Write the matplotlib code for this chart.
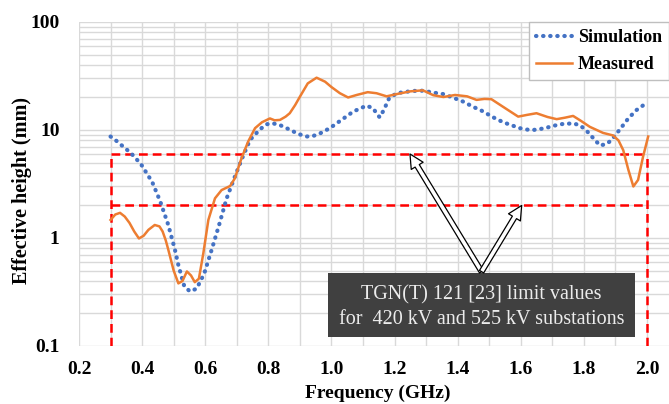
import matplotlib.pyplot as plt
from matplotlib.patches import Rectangle
from matplotlib.ticker import FixedLocator, FixedFormatter, MultipleLocator, NullFormatter

# simulation curve (GHz, mm)
sim_f = [0.300, 0.317, 0.351, 0.367, 0.396, 0.432, 0.457, 0.483, 0.504, 0.515,
         0.534, 0.552, 0.573, 0.597, 0.620, 0.644, 0.668, 0.692, 0.715, 0.742,
         0.773, 0.794, 0.816, 0.837, 0.858, 0.895, 0.921, 0.942, 0.964, 0.995,
         1.032, 1.069, 1.111, 1.132, 1.143, 1.153, 1.166, 1.183, 1.207, 1.238,
         1.270, 1.291, 1.323, 1.355, 1.390, 1.418, 1.449, 1.476, 1.513, 1.534,
         1.555, 1.597, 1.618, 1.639, 1.661, 1.682, 1.708, 1.735, 1.766, 1.787,
         1.808, 1.830, 1.851, 1.872, 1.888, 1.914, 1.941, 1.967, 1.994]
sim_h = [8.7, 8.0, 6.6, 6.0, 4.85, 3.3, 2.2, 1.32, 0.78, 0.56,
         0.355, 0.32, 0.34, 0.47, 0.77, 1.32, 2.33, 3.57, 5.3, 8.1,
         10.1, 11.3, 11.5, 11.1, 10.4, 9.2, 8.7, 8.8, 9.3, 10.4,
         12.4, 14.8, 16.8, 15.9, 14.3, 13.1, 15.3, 19.7, 21.9, 22.6,
         23.1, 23.1, 22.2, 21.5, 19.7, 18.3, 16.4, 15.1, 13.1, 12.2,
         11.5, 10.4, 10.1, 10.0, 10.2, 10.5, 11.0, 11.4, 11.5, 11.1,
         9.9, 8.4, 7.2, 7.4, 8.1, 10.1, 12.8, 15.3, 17.4]

# measured curve
meas_f = [0.300, 0.315, 0.330, 0.345, 0.360, 0.375, 0.390, 0.405, 0.420, 0.440,
          0.455, 0.465, 0.475, 0.483, 0.500, 0.515, 0.528, 0.542, 0.555, 0.567,
          0.580, 0.594, 0.610, 0.631, 0.652, 0.679, 0.694, 0.715, 0.736, 0.758,
          0.780, 0.805, 0.820, 0.837, 0.855, 0.868, 0.885, 0.900, 0.925, 0.953,
          0.980, 1.000, 1.027, 1.053, 1.080, 1.115, 1.143, 1.175, 1.207, 1.250,
          1.290, 1.323, 1.355, 1.392, 1.430, 1.460, 1.485, 1.507, 1.544, 1.592,
          1.620, 1.650, 1.685, 1.714, 1.740, 1.766, 1.790, 1.819, 1.861, 1.893,
          1.910, 1.925, 1.941, 1.957, 1.972, 1.988, 2.004]
meas_h = [1.47, 1.65, 1.71, 1.58, 1.38, 1.15, 0.99, 1.05, 1.19, 1.32,
          1.28, 1.15, 0.95, 0.78, 0.50, 0.38, 0.40, 0.49, 0.45, 0.39,
          0.42, 0.72, 1.47, 2.33, 2.78, 3.03, 3.57, 5.47, 7.8, 10.4,
          11.8, 12.8, 12.3, 12.4, 13.3, 14.3, 17.0, 20.3, 27.0, 30.5,
          28.0, 25.0, 21.9, 20.0, 21.1, 22.4, 21.9, 20.5, 21.5, 22.8,
          23.3, 21.0, 20.2, 21.1, 20.5, 19.0, 19.4, 19.3, 16.4, 13.3,
          13.8, 14.3, 13.2, 12.6, 13.0, 13.5, 12.2, 10.7, 9.4, 8.9,
          8.0, 6.5, 4.3, 3.0, 3.45, 5.7, 8.7]

# TGN(T) 121 limits
limit_f = [0.3, 2.0]
limit_h = [6, 2]

x_ticks = [0.2, 0.4, 0.6, 0.8, 1.0, 1.2, 1.4, 1.6, 1.8, 2.0]
y_ticks = [0.1, 1, 10, 100]
y_labels = ['0.1', '1', '10', '100']

serif = 'Liberation Serif'

fig = plt.figure(figsize=(6.69, 4.04), dpi=100)
ax = fig.add_axes([79 / 669, 1 - 346 / 404, 590 / 669, 324 / 404])
ax.set_yscale('log')
ax.set_xlim(0.2, 2.07)
ax.set_ylim(0.1, 100)

for s in ax.spines.values():
    s.set_visible(False)

ax.xaxis.set_major_locator(FixedLocator(x_ticks))
ax.xaxis.set_minor_locator(MultipleLocator(0.1))
ax.yaxis.set_major_locator(FixedLocator(y_ticks))
ax.yaxis.set_major_formatter(FixedFormatter(y_labels))
ax.yaxis.set_minor_formatter(NullFormatter())
ax.set_xticklabels(['%.1f' % v for v in x_ticks])
ax.grid(True, which='both', color='#d9d9d9', lw=1.0)
ax.set_axisbelow(True)
ax.tick_params(which='both', length=0)
ax.tick_params(axis='x', pad=11)
ax.tick_params(axis='y', pad=14)
for lab in ax.get_xticklabels() + ax.get_yticklabels():
    lab.set_fontfamily(serif)
    lab.set_fontweight('bold')
    lab.set_fontsize(14)

ax.set_xlabel('Frequency (GHz)', fontfamily=serif, fontweight='bold', fontsize=14)
ax.set_ylabel('Effective height (mm)', fontfamily=serif, fontweight='bold', fontsize=14.5)
ax.xaxis.set_label_coords(0.507, -0.12)
ax.yaxis.set_label_coords(-0.08, 0.48)

# limit lines (red dashes)
red = '#ff0000'
for h in limit_h:
    ax.plot(limit_f, [h, h], color=red, lw=1.8, dashes=(3.5, 2))
for f in limit_f:
    ax.plot([f, f], [0.1, max(limit_h)], color=red, lw=1.8, dashes=(3.5, 2))

ax.plot(sim_f, sim_h, color='#4472c4', lw=3, linestyle=(0, (0.1, 1.6)),
        dash_capstyle='round', label='Simulation', zorder=3)
ax.plot(meas_f, meas_h, color='#ed7d31', lw=1.8, label='Measured', zorder=4)

leg = ax.legend(loc='upper right', bbox_to_anchor=(1.0, 1.0), borderaxespad=0,
                prop={'family': serif, 'weight': 'bold', 'size': 13},
                fancybox=False, framealpha=1, edgecolor='#bfbfbf',
                handlelength=2.0, handletextpad=0.3, labelspacing=0.55)

# annotation box with arrows to both limit lines
ax.add_patch(Rectangle((0.99, 0.121), 0.972, 0.474 - 0.121, facecolor='#404040',
                       edgecolor='none', zorder=5))
ax.text(1.476, 0.30, 'TGN(T) 121 [23] limit values', ha='center', va='center',
        color='#ececec', fontfamily=serif, fontsize=14.5, zorder=6)
ax.text(1.476, 0.175, 'for  420 kV and 525 kV substations', ha='center', va='center',
        color='#ececec', fontfamily=serif, fontsize=14.5, zorder=6)

arrow_style = dict(arrowstyle='simple,head_length=1.0,head_width=1.0,tail_width=0.35',
                   fc='white', ec='black', lw=0.9, shrinkA=0, shrinkB=0)
ax.annotate('', xy=(1.249, 6), xytext=(1.476, 0.488), arrowprops=arrow_style, zorder=6)
ax.annotate('', xy=(1.603, 2), xytext=(1.476, 0.488), arrowprops=arrow_style, zorder=6)

fig.savefig('out.png', dpi=100)
